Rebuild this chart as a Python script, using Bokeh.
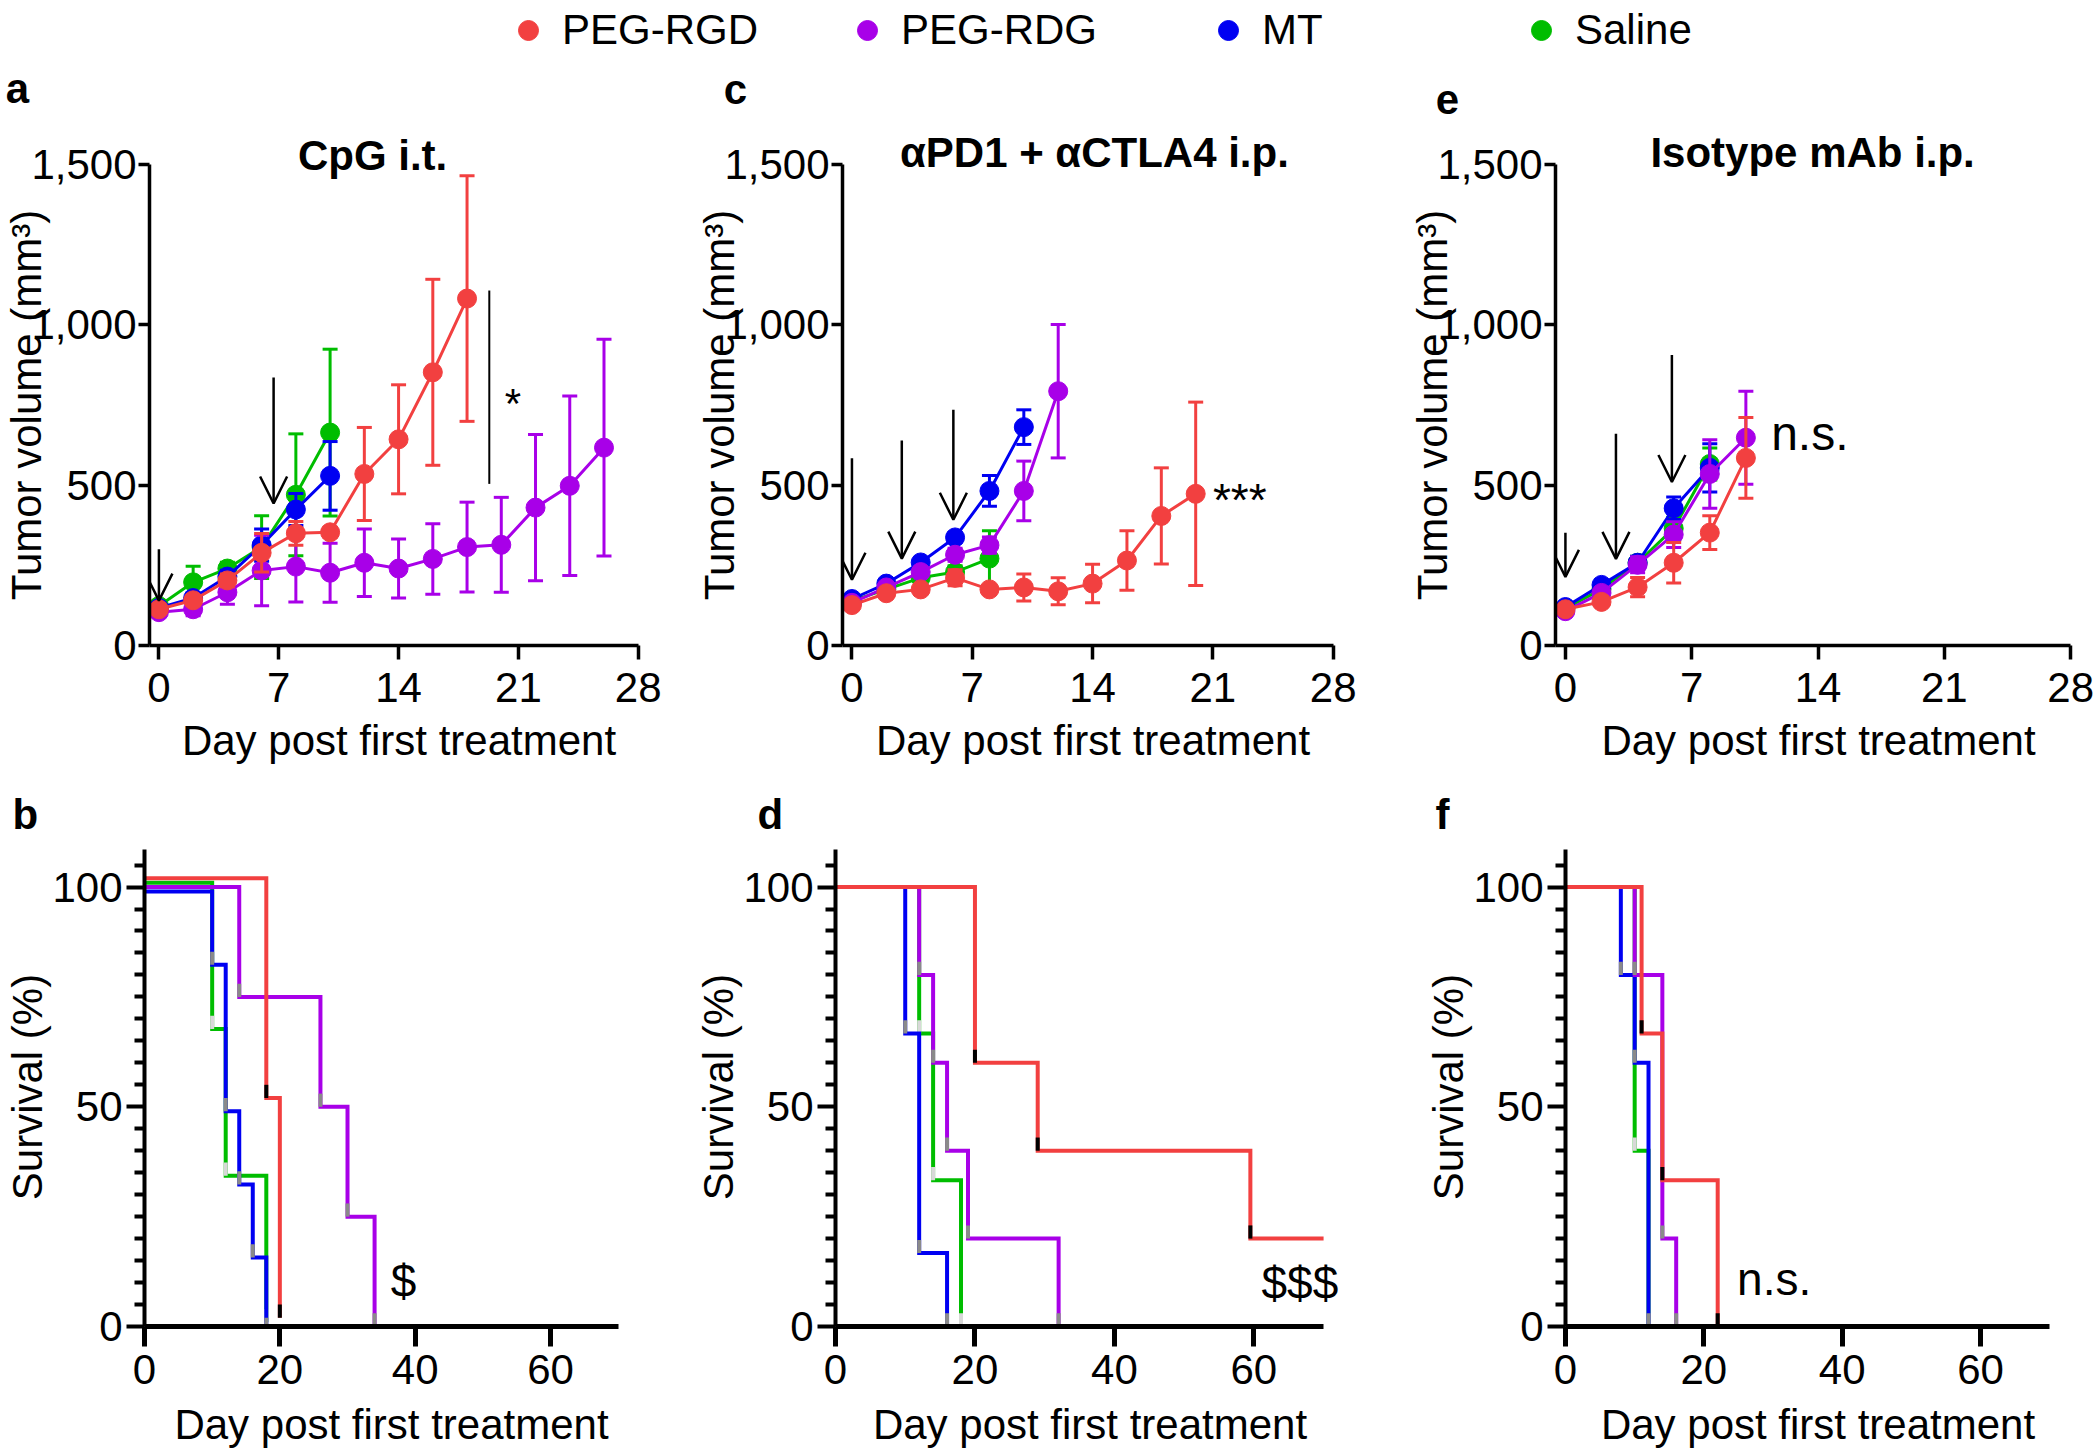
from bokeh.plotting import figure
from bokeh.models import (Range1d, FixedTicker, NumeralTickFormatter, Label, Arrow,
                          OpenHead, Legend, LegendItem, ColumnDataSource)
from bokeh.layouts import column, row
from bokeh.embed import file_html
from bokeh.resources import INLINE

FONT = "Liberation Sans"
FS = "42px"
GROUPS = ["PEG-RGD", "PEG-RDG", "MT", "Saline"]
COLORS = {"PEG-RGD": "#f24040", "PEG-RDG": "#a800e8", "MT": "#0000f2", "Saline": "#00bd00"}
MARK_COLORS = {"PEG-RGD": "#000000", "PEG-RDG": "#8a8a8a", "MT": "#8a8a8a", "Saline": "#d8d8d8"}
DRAW_ORDER = ["Saline", "MT", "PEG-RDG", "PEG-RGD"]

# ---------------- tumour volume (mean, error) ----------------
# a: CpG i.t.
a_rgd_day = [0, 2, 4, 6, 8, 10, 12, 14, 16, 18]
a_rgd_mean = [113, 141, 203, 289, 350, 353, 535, 643, 852, 1082]
a_rgd_err = [10, 15, 20, 60, 37, 15, 145, 170, 290, 383]
a_rdg_day = [0, 2, 4, 6, 8, 10, 12, 14, 16, 18, 20, 22, 24, 26]
a_rdg_mean = [104, 113, 166, 234, 246, 227, 258, 240, 270, 307, 314, 430, 498, 617]
a_rdg_err = [10, 20, 37, 110, 110, 92, 105, 92, 110, 140, 148, 228, 280, 338]
a_mt_day = [0, 2, 4, 6, 8, 10]
a_mt_mean = [117, 148, 215, 313, 424, 529]
a_mt_err = [10, 15, 20, 50, 50, 107]
a_sal_day = [0, 2, 4, 6, 8, 10]
a_sal_mean = [123, 197, 240, 307, 470, 664]
a_sal_err = [10, 50, 20, 98, 190, 260]
a_treat_days = [0, 6.7]

# c: aPD1 + aCTLA4 i.p.
c_rgd_day = [0, 2, 4, 6, 8, 10, 12, 14, 16, 18, 20]
c_rgd_mean = [126, 163, 175, 211, 175, 181, 169, 193, 265, 404, 473]
c_rgd_err = [8, 10, 12, 25, 10, 42, 42, 60, 93, 150, 286]
c_rdg_day = [0, 2, 4, 6, 8, 10, 12]
c_rdg_mean = [133, 181, 229, 283, 313, 482, 793]
c_rdg_err = [8, 10, 12, 20, 25, 93, 208]
c_mt_day = [0, 2, 4, 6, 8, 10]
c_mt_mean = [145, 193, 259, 337, 482, 681]
c_mt_err = [8, 10, 12, 15, 48, 54]
c_sal_day = [0, 2, 4, 6, 8]
c_sal_mean = [139, 175, 211, 229, 271]
c_sal_err = [8, 10, 12, 20, 87]
c_treat_days = [0, 2.9, 5.9]

# e: Isotype mAb i.p.
e_rgd_day = [0, 2, 4, 6, 8, 10]
e_rgd_mean = [113, 136, 182, 258, 352, 585]
e_rgd_err = [8, 12, 30, 63, 53, 126]
e_rdg_day = [0, 2, 4, 6, 8, 10]
e_rdg_mean = [107, 164, 252, 346, 535, 648]
e_rdg_err = [8, 12, 25, 40, 107, 145]
e_mt_day = [0, 2, 4, 6, 8]
e_mt_mean = [120, 189, 258, 428, 554]
e_mt_err = [8, 12, 20, 35, 75]
e_sal_day = [0, 2, 4, 6, 8]
e_sal_mean = [115, 176, 258, 365, 566]
e_sal_err = [8, 12, 20, 35, 50]
e_treat_days = [0, 2.8, 5.9]

# ---------------- survival (Kaplan-Meier steps) ----------------
b_rgd_t = [0, 18, 20];               b_rgd_s = [100, 50, 0]
b_rdg_t = [0, 14, 26, 30, 34];       b_rdg_s = [100, 75, 50, 25, 0]
b_mt_t = [0, 10, 12, 14, 16, 18];    b_mt_s = [100, 83.3, 50, 33.3, 16.7, 0]
b_sal_t = [0, 10, 12, 18];           b_sal_s = [100, 66.7, 33.3, 0]

d_rgd_t = [0, 20, 29, 59.5, 70];     d_rgd_s = [100, 60, 40, 20, 20]
d_rdg_t = [0, 12, 14, 16, 19, 32];   d_rdg_s = [100, 80, 60, 40, 20, 0]
d_mt_t = [0, 10, 12, 16];            d_mt_s = [100, 66.7, 16.7, 0]
d_sal_t = [0, 12, 14, 18];           d_sal_s = [100, 66.7, 33.3, 0]

f_rgd_t = [0, 11, 14, 22];           f_rgd_s = [100, 66.7, 33.3, 0]
f_rdg_t = [0, 10, 14, 16];           f_rdg_s = [100, 80, 20, 0]
f_mt_t = [0, 8, 10, 12];             f_mt_s = [100, 80, 60, 0]
f_sal_t = [0, 10, 12];               f_sal_s = [100, 40, 0]

tumor_x_ticks = [0, 7, 14, 21, 28]
tumor_y_ticks = [0, 500, 1000, 1500]
surv_x_ticks = [0, 20, 40, 60]
surv_y_ticks = [0, 50, 100]
surv_y_minor = [5, 10, 15, 20, 25, 30, 35, 40, 45, 55, 60, 65, 70, 75, 80, 85, 90, 95, 105]

# ---------------- layout (page pixel geometry) ----------------
HEAD_H = 126          # legend strip + top-row panel letters
ROW_SPLIT = 776
TOP_YA = ((0, 645), (1500, 164))      # shared by the aligned top-row frames
BOT_YA = ((0, 1326), (100, 887))      # shared by the aligned bottom-row frames
GA = dict(x0=0, y0=HEAD_H, w=688, h=ROW_SPLIT - HEAD_H, xa=((0, 157), (28, 638)), ya=TOP_YA)
GC = dict(x0=688, y0=HEAD_H, w=685, h=ROW_SPLIT - HEAD_H, xa=((0, 851), (28, 1333)), ya=TOP_YA)
GE = dict(x0=1373, y0=HEAD_H, w=724, h=ROW_SPLIT - HEAD_H, xa=((0, 1565), (28, 2070)), ya=TOP_YA)
GB = dict(x0=0, y0=ROW_SPLIT, w=688, h=1454 - ROW_SPLIT, xa=((0, 144), (60, 550)), ya=BOT_YA)
GD = dict(x0=688, y0=ROW_SPLIT, w=685, h=1454 - ROW_SPLIT, xa=((0, 835), (60, 1253)), ya=BOT_YA)
GF = dict(x0=1373, y0=ROW_SPLIT, w=724, h=1454 - ROW_SPLIT, xa=((0, 1565), (60, 1980)), ya=BOT_YA)
TUMOR_XR, TUMOR_YR = (-0.55, 28.6), (0, 1500)
SURV_XR, SURV_YR = (0, 73), (0, 109)


def scales(g):
    (v1, p1), (v2, p2) = g["xa"]
    (w1, q1), (w2, q2) = g["ya"]
    return v1, p1, (p2 - p1) / (v2 - v1), w1, q1, (q1 - q2) / (w2 - w1)


def to_data(g, px, py):
    v1, p1, kx, w1, q1, ky = scales(g)
    return v1 + (px - p1) / kx, w1 + (q1 - py) / ky


def to_px(g, x, y):
    v1, p1, kx, w1, q1, ky = scales(g)
    return p1 + (x - v1) * kx, q1 - (y - w1) * ky


def make_fig(g, xr, yr):
    fl, ft = to_px(g, xr[0], yr[1])
    fr, fb = to_px(g, xr[1], yr[0])
    p = figure(width=g["w"], height=g["h"], x_range=Range1d(*xr), y_range=Range1d(*yr),
               output_backend="svg", toolbar_location=None,
               min_border_left=int(round(fl - g["x0"])),
               min_border_right=int(round(g["x0"] + g["w"] - fr)),
               min_border_top=int(round(ft - g["y0"])),
               min_border_bottom=int(round(g["y0"] + g["h"] - fb)))
    p.outline_line_color = None
    p.xgrid.visible = False
    p.ygrid.visible = False
    p.background_fill_color = "white"
    p.border_fill_color = "white"
    return p, fl, ft


def style_axis(ax, ticks, bounds, label, line_w, tick_out, minor=None, minor_out=0,
               standoff=2, label_standoff=6):
    ax.ticker = FixedTicker(ticks=ticks, minor_ticks=minor or [])
    ax.bounds = bounds
    ax.axis_line_width = line_w
    ax.axis_line_color = "black"
    ax.major_tick_line_width = line_w
    ax.major_tick_line_color = "black"
    ax.major_tick_out = tick_out
    ax.major_tick_in = 0
    ax.minor_tick_line_width = line_w
    ax.minor_tick_line_color = "black"
    ax.minor_tick_out = minor_out
    ax.minor_tick_in = 0
    ax.major_label_text_font = FONT
    ax.major_label_text_font_size = FS
    ax.major_label_text_color = "black"
    ax.major_label_standoff = standoff
    ax.axis_label = label
    ax.axis_label_text_font = FONT
    ax.axis_label_text_font_size = FS
    ax.axis_label_text_font_style = "normal"
    ax.axis_label_text_color = "black"
    ax.axis_label_standoff = label_standoff


def set_title(p, text, left_px, frame_left, frame_top, baseline_px):
    p.title.text = text
    p.title.text_font = FONT
    p.title.text_font_size = FS
    p.title.text_font_style = "bold"
    p.title.text_color = "black"
    p.title.align = "left"
    p.title.offset = left_px - frame_left
    p.title.standoff = int(round(2 * (frame_top - 9 - baseline_px)))


def add_label(p, g, text, x, y_base, size_px):
    # y_base: the text baseline in data units; placed by the middle of its em box
    px, py = to_px(g, x, y_base)
    y_mid = to_data(g, px, py - 0.348 * size_px)[1]
    p.add_layout(Label(x=x, y=y_mid, text=text, text_font=FONT,
                       text_font_size="%dpx" % size_px, text_color="black",
                       text_align="left", text_baseline="middle"))


def tumor_panel(g, series, title, title_left, title_base, treat_days, arrow_ys,
                sig_text, sig_pos, sig_size):
    p, fl, ft = make_fig(g, TUMOR_XR, TUMOR_YR)
    style_axis(p.xaxis[0], tumor_x_ticks, (TUMOR_XR[0], 28), "Day post first treatment", 3.5, 14,
               standoff=13, label_standoff=12)
    style_axis(p.yaxis[0], tumor_y_ticks, (0, 1500), "Tumor volume (mm\u00b3)", 3.5, 11,
               standoff=2, label_standoff=-22)
    p.yaxis[0].formatter = NumeralTickFormatter(format="0,0")
    for name in DRAW_ORDER:
        day, mean, err = series[name]
        col = COLORS[name]
        src = ColumnDataSource(dict(day=day, mean=mean,
                                    lo=[m - e for m, e in zip(mean, err)],
                                    hi=[m + e for m, e in zip(mean, err)]))
        p.segment("day", "lo", "day", "hi", source=src, line_color=col, line_width=3)
        p.scatter("day", "hi", source=src, marker="dash", size=15, line_color=col, line_width=3)
        p.scatter("day", "lo", source=src, marker="dash", size=15, line_color=col, line_width=3)
        p.line("day", "mean", source=src, line_color=col, line_width=3)
        p.scatter("day", "mean", source=src, size=19, fill_color=col, line_color=col)
    for d, (y0, y1) in zip(treat_days, arrow_ys):
        p.add_layout(Arrow(end=OpenHead(size=27, line_width=2.5, line_color="black"),
                           x_start=d, y_start=y0, x_end=d, y_end=y1,
                           line_width=2.5, line_color="black"))
    set_title(p, title, title_left, fl, ft, title_base)
    add_label(p, g, sig_text, sig_pos[0], sig_pos[1], sig_size)
    return p


def surv_panel(g, series, letter, letter_left, sig_text, sig_pos, offsets=None):
    p, fl, ft = make_fig(g, SURV_XR, SURV_YR)
    style_axis(p.xaxis[0], surv_x_ticks, (0, 70), "Day post first treatment", 5, 20,
               standoff=8, label_standoff=14)
    style_axis(p.yaxis[0], surv_y_ticks, (0, 108.5), "Survival (%)", 4, 18,
               minor=surv_y_minor, minor_out=10, standoff=4, label_standoff=-2)
    for name in DRAW_ORDER:
        t, s = series[name]
        off = (offsets or {}).get(name, 0)
        y = [v + off for v in s]
        p.step(t, y, mode="after", line_color=COLORS[name], line_width=4, line_join="miter")
        drops = [i for i in range(1, len(s)) if s[i] < s[i - 1]]
        p.segment([t[i] for i in drops], [y[i] for i in drops],
                  [t[i] for i in drops], [y[i] + 3 for i in drops],
                  line_color=MARK_COLORS[name], line_width=4)
    add_label(p, g, sig_text, sig_pos[0], sig_pos[1], 46)
    p.title.text = letter
    p.title.text_font = FONT
    p.title.text_font_size = FS
    p.title.text_font_style = "bold"
    p.title.text_color = "black"
    p.title.align = "left"
    p.title.offset = letter_left - fl
    p.title.standoff = 20
    return p


pa = tumor_panel(GA, {"PEG-RGD": (a_rgd_day, a_rgd_mean, a_rgd_err),
                      "PEG-RDG": (a_rdg_day, a_rdg_mean, a_rdg_err),
                      "MT": (a_mt_day, a_mt_mean, a_mt_err),
                      "Saline": (a_sal_day, a_sal_mean, a_sal_err)},
                 "CpG i.t.", 296, 169, a_treat_days,
                 [(300, 140), (836, 443)], "*", (20.2, 708), 42)
pa.segment(x0=[19.3], y0=[504], x1=[19.3], y1=[1107], line_color="black", line_width=2)

pc = tumor_panel(GC, {"PEG-RGD": (c_rgd_day, c_rgd_mean, c_rgd_err),
                      "PEG-RDG": (c_rdg_day, c_rdg_mean, c_rdg_err),
                      "MT": (c_mt_day, c_mt_mean, c_mt_err),
                      "Saline": (c_sal_day, c_sal_mean, c_sal_err)},
                 "\u03b1PD1 + \u03b1CTLA4 i.p.", 899, 166, c_treat_days,
                 [(584, 205), (639, 271), (735, 392)], "***", (21.0, 405), 46)

pe = tumor_panel(GE, {"PEG-RGD": (e_rgd_day, e_rgd_mean, e_rgd_err),
                      "PEG-RDG": (e_rdg_day, e_rdg_mean, e_rdg_err),
                      "MT": (e_mt_day, e_mt_mean, e_mt_err),
                      "Saline": (e_sal_day, e_sal_mean, e_sal_err)},
                 "Isotype mAb i.p.", 1650, 166, e_treat_days,
                 [(352, 214), (660, 270), (906, 510)], "n.s.", (11.4, 610), 48)

pb = surv_panel(GB, {"PEG-RGD": (b_rgd_t, b_rgd_s), "PEG-RDG": (b_rdg_t, b_rdg_s),
                     "MT": (b_mt_t, b_mt_s), "Saline": (b_sal_t, b_sal_s)},
                "b", 12, "$", (36.4, 6.8),
                offsets={"PEG-RGD": 2, "Saline": 1, "PEG-RDG": 0, "MT": -1})
pd_ = surv_panel(GD, {"PEG-RGD": (d_rgd_t, d_rgd_s), "PEG-RDG": (d_rdg_t, d_rdg_s),
                      "MT": (d_mt_t, d_mt_s), "Saline": (d_sal_t, d_sal_s)},
                 "d", 757, "$$$", (61.1, 6.3))
pf = surv_panel(GF, {"PEG-RGD": (f_rgd_t, f_rgd_s), "PEG-RDG": (f_rdg_t, f_rdg_s),
                     "MT": (f_mt_t, f_mt_s), "Saline": (f_sal_t, f_sal_s)},
                "f", 1435, "n.s.", (24.8, 7.1))

# ---------------- header strip: legend + letters of the top panels ----------------
LEG_CENTERS = [528, 867, 1228, 1541]
TOP_LETTERS = [("a", 17, 103), ("c", 735, 104), ("e", 1447, 114)]
hd = figure(width=2097, height=HEAD_H, x_range=Range1d(0, 2097), y_range=Range1d(HEAD_H, 0),
            output_backend="svg", toolbar_location=None, x_axis_type=None, y_axis_type=None,
            min_border=0)
hd.outline_line_color = None
hd.xgrid.visible = False
hd.ygrid.visible = False
for name, cx in zip(GROUPS, LEG_CENTERS):
    r = hd.scatter(x=[-100], y=[-100], size=20, fill_color=COLORS[name], line_color=COLORS[name])
    leg = Legend(items=[LegendItem(label=name, renderers=[r])],
                 location=(cx - 25, HEAD_H - 55),
                 orientation="horizontal", glyph_width=50, glyph_height=50, label_standoff=9,
                 padding=0, margin=0, spacing=0, border_line_color=None,
                 background_fill_alpha=0, label_text_font=FONT, label_text_font_size=FS,
                 label_text_color="black")
    hd.add_layout(leg)
for letter, cx, base in TOP_LETTERS:
    hd.add_layout(Label(x=cx, y=base - 0.348 * 42, text=letter, text_font=FONT,
                        text_font_size=FS, text_font_style="bold", text_color="black",
                        text_align="center", text_baseline="middle"))

layout = column(hd, row(pa, pc, pe), row(pb, pd_, pf))
open("out.html", "w").write(file_html(layout, INLINE))
